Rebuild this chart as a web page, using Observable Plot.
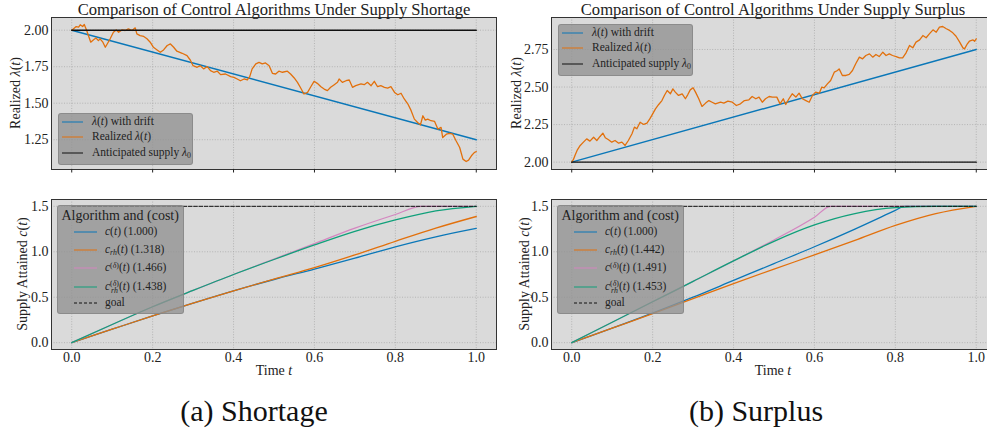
<!DOCTYPE html>
<html>
<head>
<meta charset="utf-8">
<script src="https://cdn.jsdelivr.net/npm/d3@7"></script>
<script src="https://cdn.jsdelivr.net/npm/@observablehq/plot@0.6"></script>
<style>
  html, body { margin: 0; padding: 0; background: #fff; overflow: hidden; }
  #fig { position: relative; width: 987px; height: 433px; overflow: hidden; color: #222; }
  .panel { position: absolute; width: 500px; }
  .panel svg { max-width: none !important; display: block; }
  .title { position: absolute; font-size: 16.6px; white-space: nowrap; transform: translate(-50%, -50%); line-height: 1; }
  .ylab { position: absolute; font-size: 14px; white-space: nowrap; line-height: 1;
          transform: translate(-50%, -50%) rotate(-90deg); }
  .xlab { position: absolute; font-size: 14px; white-space: nowrap; line-height: 1; transform: translate(-50%, -50%); }
  .caption { position: absolute; font-size: 30px; white-space: nowrap; line-height: 1; transform: translate(-50%, -50%); color: #111; }
  .legend { position: absolute; background: rgba(146,146,146,0.8); border: 1px solid rgba(125,125,125,0.6);
            border-radius: 3px; box-sizing: border-box; }
  .lg-title { position: absolute; font-size: 14px; white-space: nowrap; line-height: 1; transform: translateY(-50%); }
  .lg-text { position: absolute; font-size: 11.5px; white-space: nowrap; line-height: 1; transform: translateY(-50%); }
  .lg-line { position: absolute; height: 0; border-top-width: 1.5px; border-top-style: solid; transform: translateY(-50%); }
  .sb { font-size: 0.68em; position: relative; top: 0.3em; }
  .sp { font-size: 0.68em; position: relative; top: -0.45em; }
  .ss { position: relative; display: inline-block; }
  .ss .lo { position: absolute; left: 1px; top: 0.85em; font-size: 0.68em; }
</style>
</head>
<body>
<div id="fig"></div>
<script>
// ---- shared axes ----
const timeTicks = [0, 0.2, 0.4, 0.6, 0.8, 1.0];
const lambdaTicksShortage = [1.25, 1.5, 1.75, 2.0];
const lambdaTicksSurplus = [2.0, 2.25, 2.5, 2.75];
const supplyTicks = [0, 0.5, 1.0, 1.5];

// ---- supply rate panels ----
const lambda0 = 2.0;
const driftT = [0, 1];
const driftShortage = [2.0, 1.25];
const driftSurplus = [2.0, 2.75];

const shortageT = [0,0.004,0.011,0.017,0.021,0.027,0.031,0.037,0.044,0.047,
  0.054,0.060,0.066,0.070,0.077,0.083,0.087,0.095,0.103,0.110,
  0.116,0.124,0.132,0.140,0.149,0.157,0.161,0.169,0.178,0.186,
  0.194,0.202,0.211,0.219,0.227,0.236,0.244,0.252,0.260,0.273,
  0.285,0.293,0.300,0.310,0.318,0.326,0.335,0.343,0.351,0.360,
  0.368,0.380,0.393,0.401,0.409,0.417,0.426,0.434,0.440,0.446,
  0.455,0.463,0.471,0.479,0.488,0.496,0.504,0.512,0.521,0.533,
  0.541,0.550,0.558,0.566,0.574,0.583,0.591,0.599,0.607,0.616,
  0.624,0.632,0.640,0.649,0.657,0.661,0.669,0.678,0.686,0.694,
  0.702,0.715,0.723,0.731,0.740,0.748,0.756,0.764,0.773,0.781,
  0.789,0.798,0.806,0.814,0.822,0.831,0.839,0.847,0.855,0.862,
  0.868,0.874,0.880,0.888,0.897,0.905,0.913,0.917,0.926,0.934,
  0.942,0.950,0.959,0.967,0.975,0.981,0.988,0.995,1.000];
const shortageLambda = [2.000,2.009,2.025,2.021,2.037,2.025,2.039,1.998,1.941,1.918,
  1.934,1.947,1.929,1.941,1.918,1.883,1.902,1.941,1.986,2.002,
  1.986,2.002,1.998,2.009,1.998,2.016,1.975,1.963,1.957,1.941,
  1.918,1.883,1.865,1.849,1.865,1.895,1.906,1.883,1.856,1.842,
  1.826,1.796,1.757,1.746,1.757,1.735,1.751,1.723,1.712,1.719,
  1.696,1.700,1.682,1.677,1.666,1.654,1.666,1.659,1.682,1.735,
  1.769,1.780,1.769,1.776,1.757,1.705,1.700,1.719,1.712,1.719,
  1.700,1.673,1.643,1.604,1.563,1.574,1.613,1.650,1.636,1.613,
  1.597,1.586,1.609,1.627,1.643,1.666,1.643,1.654,1.659,1.609,
  1.620,1.632,1.627,1.643,1.620,1.650,1.613,1.620,1.609,1.604,
  1.613,1.574,1.558,1.568,1.529,1.494,1.449,1.391,1.368,1.352,
  1.414,1.384,1.391,1.380,1.375,1.323,1.334,1.265,1.288,1.293,
  1.288,1.243,1.197,1.117,1.101,1.110,1.140,1.162,1.169];

const surplusT = [0,0.004,0.008,0.014,0.021,0.029,0.037,0.045,0.054,0.062,
  0.070,0.077,0.083,0.091,0.099,0.107,0.116,0.124,0.132,0.140,
  0.149,0.155,0.161,0.169,0.178,0.186,0.193,0.198,0.207,0.215,
  0.223,0.229,0.236,0.244,0.250,0.256,0.264,0.273,0.281,0.287,
  0.293,0.300,0.306,0.314,0.322,0.331,0.339,0.347,0.355,0.368,
  0.376,0.386,0.397,0.407,0.417,0.427,0.438,0.446,0.455,0.463,
  0.471,0.479,0.488,0.496,0.507,0.515,0.523,0.529,0.537,0.545,
  0.554,0.562,0.570,0.579,0.587,0.595,0.603,0.612,0.618,0.624,
  0.632,0.640,0.649,0.657,0.661,0.669,0.678,0.686,0.694,0.702,
  0.711,0.719,0.727,0.736,0.744,0.752,0.760,0.769,0.777,0.785,
  0.793,0.802,0.810,0.818,0.826,0.835,0.843,0.851,0.860,0.868,
  0.876,0.884,0.893,0.901,0.909,0.917,0.926,0.934,0.942,0.950,
  0.959,0.967,0.971,0.978,0.983,0.992,0.996,1.000];
const surplusLambda = [2.000,2.016,2.044,2.082,2.111,2.133,2.155,2.140,2.166,2.144,
  2.171,2.193,2.162,2.149,2.133,2.144,2.126,2.133,2.111,2.144,
  2.189,2.233,2.222,2.266,2.251,2.260,2.288,2.311,2.355,2.384,
  2.410,2.444,2.477,2.455,2.488,2.466,2.444,2.455,2.422,2.450,
  2.481,2.495,2.466,2.422,2.371,2.393,2.410,2.399,2.388,2.399,
  2.393,2.406,2.399,2.377,2.388,2.410,2.415,2.437,2.422,2.433,
  2.399,2.422,2.437,2.433,2.433,2.388,2.422,2.384,2.422,2.455,
  2.433,2.459,2.422,2.410,2.399,2.444,2.466,2.459,2.499,2.495,
  2.521,2.544,2.599,2.610,2.621,2.577,2.577,2.584,2.610,2.655,
  2.699,2.688,2.710,2.721,2.699,2.717,2.703,2.732,2.710,2.721,
  2.710,2.703,2.694,2.694,2.726,2.777,2.761,2.799,2.814,2.843,
  2.828,2.854,2.881,2.865,2.899,2.903,2.888,2.877,2.861,2.838,
  2.799,2.761,2.754,2.788,2.805,2.814,2.805,2.821];

// ---- supply attained panels ----
const goal = 1.5;
const gridT = [0, 0.1, 0.2, 0.3, 0.4, 0.5, 0.6, 0.7, 0.8, 0.9, 1.0];

const shortC = [0, 0.148, 0.295, 0.435, 0.57, 0.695, 0.81, 0.93, 1.055, 1.165, 1.257];
const shortCrh = [0, 0.148, 0.295, 0.435, 0.57, 0.70, 0.825, 0.965, 1.115, 1.26, 1.388];
const shortCdeltaT = [0, 0.1, 0.2, 0.3, 0.4, 0.5, 0.6, 0.7, 0.8, 0.864, 0.9, 1.0];
const shortCdelta = [0, 0.2, 0.395, 0.575, 0.75, 0.92, 1.09, 1.26, 1.41, 1.5, 1.5, 1.5];
const shortCrhDelta = [0, 0.2, 0.395, 0.575, 0.75, 0.915, 1.075, 1.225, 1.35, 1.45, 1.5];

const surpCT = [0, 0.1, 0.2, 0.3, 0.4, 0.5, 0.6, 0.7, 0.8, 0.822, 0.9, 1.0];
const surpC = [0, 0.16, 0.325, 0.5, 0.685, 0.87, 1.055, 1.25, 1.455, 1.5, 1.5, 1.5];
const surpCrh = [0, 0.16, 0.32, 0.485, 0.65, 0.81, 0.965, 1.125, 1.29, 1.42, 1.5];
const surpCdeltaT = [0, 0.1, 0.2, 0.3, 0.4, 0.5, 0.6, 0.64, 0.7, 0.8, 0.9, 1.0];
const surpCdelta = [0, 0.225, 0.45, 0.675, 0.90, 1.13, 1.38, 1.5, 1.5, 1.5, 1.5, 1.5];
const surpCrhDelta = [0, 0.225, 0.45, 0.675, 0.90, 1.115, 1.295, 1.42, 1.485, 1.5, 1.5];

const costShortage = ["1.000", "1.318", "1.466", "1.438"];
const costSurplus = ["1.000", "1.442", "1.491", "1.453"];

// ---- font: first installed serif face from the list ----
function pickSerif(candidates) {
  const ctx = document.createElement("canvas").getContext("2d");
  const sample = "Comparison of Control Algorithms 0123456789";
  for (const f of candidates) {
    for (const base of ["monospace", "sans-serif"]) {
      ctx.font = `20px ${base}`;
      const w0 = ctx.measureText(sample).width;
      ctx.font = `20px "${f}", ${base}`;
      if (ctx.measureText(sample).width !== w0) return `"${f}", serif`;
    }
  }
  return "serif";
}
const SERIF = pickSerif(["Liberation Serif", "Tinos", "Times New Roman", "DejaVu Serif", "Noto Serif", "FreeSerif"]);

// ---- styling ----
const BLUE = "#0a77b8", ORANGE = "#e2700c", PINK = "#d486c0", GREEN = "#10a07a", BLACK = "#111";
const BG = "#dadada";
const xDomain = [-0.05, 1.05];
const gridStyle = {stroke: "#ababab", strokeOpacity: 1, strokeWidth: 0.8, strokeDasharray: "1,1.6"};
const plotStyle = {fontFamily: SERIF, fontSize: "14px", color: "#222", background: "transparent", overflow: "visible"};

const zip = (ts, vs) => ts.map((t, i) => ({t, v: vs[i]}));
const fig = document.getElementById("fig");
fig.style.fontFamily = SERIF;

function place(node, left, top) {
  const wrap = document.createElement("div");
  wrap.className = "panel";
  wrap.style.left = left + "px";
  wrap.style.top = top + "px";
  wrap.appendChild(node);
  fig.appendChild(wrap);
}

function lambdaPanel(realT, realV, drift, yDomain, yTicks) {
  return Plot.plot({
    width: 500, height: 180,
    marginTop: 17, marginBottom: 11, marginLeft: 51, marginRight: 4,
    x: {domain: xDomain},
    y: {domain: yDomain},
    style: plotStyle,
    marks: [
      Plot.frame({fill: BG, stroke: null}),
      Plot.gridX(timeTicks, gridStyle),
      Plot.gridY(yTicks, gridStyle),
      Plot.line(zip(driftT, drift), {x: "t", y: "v", stroke: BLUE, strokeWidth: 1.4}),
      Plot.line(zip(realT, realV), {x: "t", y: "v", stroke: ORANGE, strokeWidth: 1.3}),
      Plot.line(zip(driftT, [lambda0, lambda0]), {x: "t", y: "v", stroke: BLACK, strokeWidth: 1.4}),
      Plot.frame({stroke: "#333", strokeWidth: 1}),
      Plot.axisY(yTicks, {tickSize: 0, tickPadding: 3, tickFormat: ".2f", label: null}),
      Plot.axisX(timeTicks, {tickSize: 3.5, tickFormat: () => "", label: null})
    ]
  });
}

function supplyPanel(series) {
  return Plot.plot({
    width: 500, height: 200,
    marginTop: 19, marginBottom: 31, marginLeft: 51, marginRight: 4,
    x: {domain: xDomain},
    y: {domain: [-0.075, 1.575]},
    style: plotStyle,
    marks: [
      Plot.frame({fill: BG, stroke: null}),
      Plot.gridX(timeTicks, gridStyle),
      Plot.gridY(supplyTicks, gridStyle),
      ...series.map(s => Plot.line(zip(s.t, s.v), {x: "t", y: "v", stroke: s.color, strokeWidth: 1.3, curve: "monotone-x"})),
      Plot.line(zip(driftT, [goal, goal]), {x: "t", y: "v", stroke: BLACK, strokeWidth: 1, strokeDasharray: "3.7,1.6"}),
      Plot.frame({stroke: "#333", strokeWidth: 1}),
      Plot.axisY(supplyTicks, {tickSize: 0, tickPadding: 3, tickFormat: ".1f", label: null}),
      Plot.axisX(timeTicks, {tickSize: 0, tickPadding: 3, tickFormat: ".1f", label: null})
    ]
  });
}

place(lambdaPanel(shortageT, shortageLambda, driftShortage, [1.046, 2.087], lambdaTicksShortage), 0, 0);
place(lambdaPanel(surplusT, surplusLambda, driftSurplus, [1.951, 2.963], lambdaTicksSurplus), 500, 0);
place(supplyPanel([
  {t: gridT, v: shortC, color: BLUE},
  {t: gridT, v: shortCrh, color: ORANGE},
  {t: shortCdeltaT, v: shortCdelta, color: PINK},
  {t: gridT, v: shortCrhDelta, color: GREEN}
]), 0, 180);
place(supplyPanel([
  {t: surpCT, v: surpC, color: BLUE},
  {t: gridT, v: surpCrh, color: ORANGE},
  {t: surpCdeltaT, v: surpCdelta, color: PINK},
  {t: gridT, v: surpCrhDelta, color: GREEN}
]), 500, 180);

// ---- text and legends ----
function addText(cls, html, x, y) {
  const d = document.createElement("div");
  d.className = cls;
  d.style.left = x + "px";
  d.style.top = y + "px";
  d.innerHTML = html;
  fig.appendChild(d);
  return d;
}

addText("title", "Comparison of Control Algorithms Under Supply Shortage", 274, 9.5);
addText("title", "Comparison of Control Algorithms Under Supply Surplus", 773, 9.5);
addText("ylab", "Realized <i>λ</i>(<i>t</i>)", 15.5, 93);
addText("ylab", "Realized <i>λ</i>(<i>t</i>)", 516.5, 93);
addText("ylab", "Supply Attained <i>c</i>(<i>t</i>)", 23, 274);
addText("ylab", "Supply Attained <i>c</i>(<i>t</i>)", 524.5, 274);
addText("xlab", "Time <i>t</i>", 274, 371);
addText("xlab", "Time <i>t</i>", 773, 371);
addText("caption", "(a) Shortage", 254, 411);
addText("caption", "(b) Surplus", 756, 411);

const lambdaLegendLabels = [
  "<i>λ</i>(<i>t</i>) with drift",
  "Realized <i>λ</i>(<i>t</i>)",
  "Anticipated supply <i>λ</i><span class=\"sb\">0</span>"
];
const lambdaLegendColors = [BLUE, ORANGE, BLACK];

function lambdaLegend(left, top) {
  const box = document.createElement("div");
  box.className = "legend";
  Object.assign(box.style, {left: left + "px", top: top + "px", width: "135px", height: "52px"});
  fig.appendChild(box);
  const rows = [8.6, 24.3, 39.5];
  lambdaLegendLabels.forEach((lab, i) => {
    const ln = document.createElement("div");
    ln.className = "lg-line";
    Object.assign(ln.style, {left: (left + 4) + "px", top: (top + rows[i]) + "px", width: "21px", borderTopColor: lambdaLegendColors[i]});
    fig.appendChild(ln);
    addText("lg-text", lab, left + 34, top + rows[i]);
  });
}

function algoLegend(left, top, costs) {
  const box = document.createElement("div");
  box.className = "legend";
  Object.assign(box.style, {left: left + "px", top: top + "px", width: "127px", height: "109px"});
  fig.appendChild(box);
  addText("lg-title", "Algorithm and (cost)", left + 4.5, top + 10.5);
  const labels = [
    `<i>c</i>(<i>t</i>) (${costs[0]})`,
    `<i>c</i><span class="sb"><i>rh</i></span>(<i>t</i>) (${costs[1]})`,
    `<i>c</i><span class="sp">(<i>δ</i>)</span>(<i>t</i>) (${costs[2]})`,
    `<i>c</i><span class="ss"><span class="sp">(<i>δ</i>)</span><span class="lo"><i>rh</i></span></span>(<i>t</i>) (${costs[3]})`,
    "goal"
  ];
  const colors = [BLUE, ORANGE, PINK, GREEN, BLACK];
  const rows = [27.3, 45, 63.3, 81.7, 98.3];
  labels.forEach((lab, i) => {
    const ln = document.createElement("div");
    ln.className = "lg-line";
    Object.assign(ln.style, {left: (left + 17) + "px", top: (top + rows[i]) + "px", width: "23px", borderTopColor: colors[i]});
    if (i === 4) { ln.style.borderTopStyle = "dashed"; ln.style.borderTopWidth = "1.2px"; }
    fig.appendChild(ln);
    addText("lg-text", lab, left + 48, top + rows[i]);
  });
}

lambdaLegend(58, 113);
lambdaLegend(558, 24);
algoLegend(57, 205, costShortage);
algoLegend(557, 205, costSurplus);
</script>
</body>
</html>
